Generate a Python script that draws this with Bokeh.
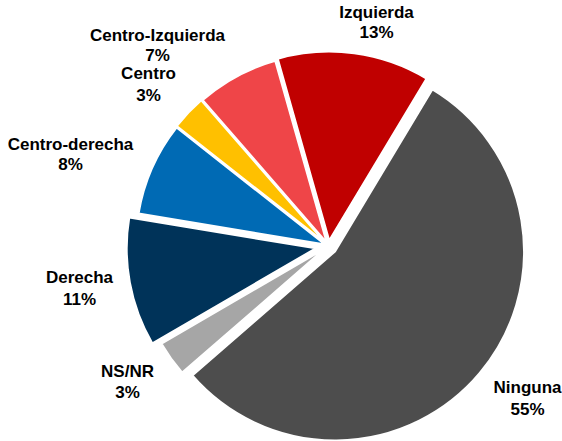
import math
from bokeh.plotting import figure
from bokeh.models import Range1d, ColumnDataSource
from bokeh.core.properties import value
from bokeh.embed import file_html
from bokeh.resources import INLINE

# ---- data ----
categories = ["Ninguna", "NS/NR", "Derecha", "Centro-derecha", "Centro", "Centro-Izquierda", "Izquierda"]
percentages = [55, 3, 11, 8, 3, 7, 13]
colors = ["#4D4D4D", "#A6A6A6", "#003359", "#006AB4", "#FFC000", "#EF4548", "#C00000"]

# ---- layout (pixel coordinates of the picture, y downward) ----
W, H = 562, 441
CX, CY = 328, 245.5        # pie centre
R = 189                    # radius
FIRST_ANGLE = 31           # degrees clockwise from 12 o'clock
explode = [8.5, 4.5, 13, 3.8, 4.5, 3.7, 5.5]
label_pos = [(527, 387, 409), (127, 371, 392), (79, 277, 299), (70, 144, 164),
             (148, 73, 95), (157, 35, 55), (376, 12, 32)]

p = figure(width=W, height=H, output_backend="svg", toolbar_location=None,
           x_range=Range1d(0, W), y_range=Range1d(0, H),
           min_border=0)
p.axis.visible = False
p.grid.visible = False
p.outline_line_color = None
p.background_fill_color = "white"
p.border_fill_color = "white"

total = sum(percentages)
xs, ys, starts, ends = [], [], [], []
theta = FIRST_ANGLE
for v, d in zip(percentages, explode):
    span = 360.0 * v / total
    t1, t2 = theta, theta + span
    tm = math.radians((t1 + t2) / 2)
    xs.append(CX + d * math.sin(tm))
    ys.append(H - CY + d * math.cos(tm))
    starts.append(math.radians(90 - t2))
    ends.append(math.radians(90 - t1))
    theta = t2

src = ColumnDataSource(dict(x=xs, y=ys, start=starts, end=ends, color=colors))
p.wedge(x="x", y="y", radius=R, start_angle="start", end_angle="end",
        fill_color="color", line_color="white", line_width=2, source=src)

lsrc = ColumnDataSource(dict(
    x=[lp[0] for lp in label_pos],
    yn=[H - lp[1] for lp in label_pos],
    yp=[H - lp[2] for lp in label_pos],
    name=categories,
    pct=[f"{v}%" for v in percentages],
))
for col, ycol in (("name", "yn"), ("pct", "yp")):
    p.text(x="x", y=ycol, text=col, source=lsrc,
           text_font=value("Liberation Sans"), text_font_style="bold",
           text_font_size="17px", text_color="black",
           text_align="center", text_baseline="middle")

open("out.html", "w").write(file_html(p, INLINE))
